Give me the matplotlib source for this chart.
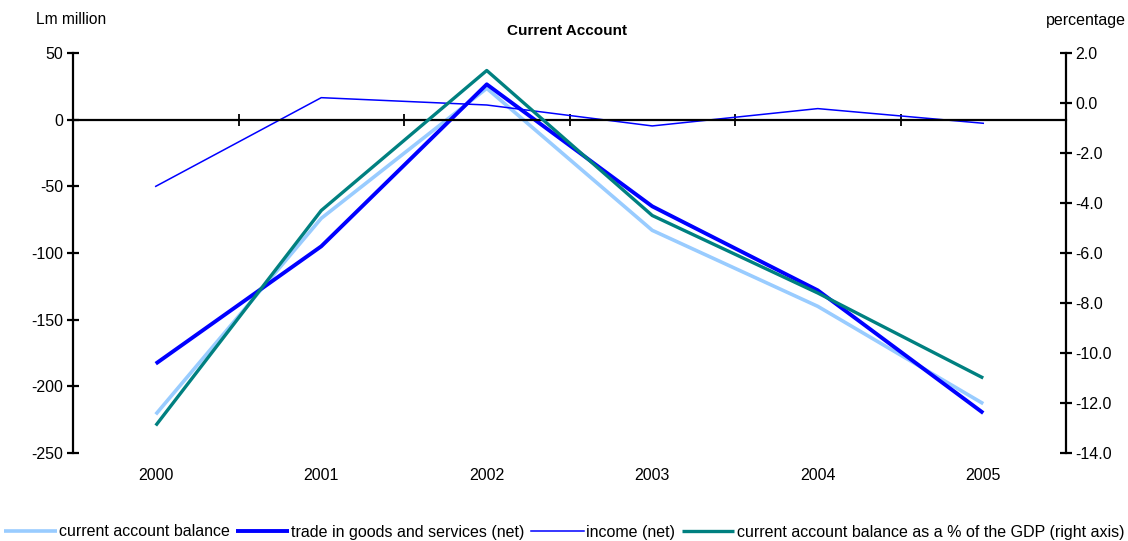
import matplotlib
matplotlib.use("Agg")
import matplotlib.pyplot as plt
import matplotlib.transforms as mtransforms
import numpy as np

plt.rcParams['font.family'] = ['Liberation Sans', 'DejaVu Sans']

years = ['2000', '2001', '2002', '2003', '2004', '2005']
current_account = [-221, -74, 23.5, -83, -140, -213]
trade_net = [-183, -95, 26.5, -65, -128, -220]
income_net = [-50, 16.5, 11, -4.7, 8.3, -2.7]
ca_pct_gdp = [-12.9, -4.3, 1.3, -4.5, -7.6, -11.0]

left_ticks = [-250, -200, -150, -100, -50, 0, 50]
right_ticks = [-14, -12, -10, -8, -6, -4, -2, 0, 2]

fig = plt.figure(figsize=(11.28, 5.41), dpi=100)
ax = fig.add_axes([73 / 1128, 1 - 453 / 541, (1066 - 73) / 1128, 400 / 541])
ax2 = ax.twinx()

x = np.arange(len(years))

l1, = ax.plot(x, current_account, color='#99CCFF', lw=2.6, solid_capstyle='butt',
              label='current account balance')
l2, = ax.plot(x, trade_net, color='#0000FF', lw=2.8, solid_capstyle='butt',
              label='trade in goods and services (net)')
l3, = ax.plot(x, income_net, color='#0000FF', lw=1.1,
              label='income (net)')
l4, = ax2.plot(x, ca_pct_gdp, color='#008080', lw=2.4, solid_capstyle='butt',
               label='current account balance as a % of the GDP (right axis)')

ax.set_xlim(-0.5, len(years) - 0.5)
ax.set_ylim(-250, 50)
ax.set_yticks(left_ticks)
ax.set_yticklabels([str(v) for v in left_ticks])
ax2.set_ylim(-14, 2)
ax2.set_yticks(right_ticks)
ax2.set_yticklabels([f'{v:.1f}' for v in right_ticks])

for a in (ax, ax2):
    a.spines['top'].set_visible(False)
ax2.spines['bottom'].set_visible(False)
ax2.spines['left'].set_visible(False)
ax.spines['right'].set_visible(False)
ax.spines['bottom'].set_position(('data', 0))
for sp in (ax.spines['left'], ax.spines['bottom'], ax2.spines['right']):
    sp.set_linewidth(1.6)
    sp.set_color('black')

# category boundary ticks on the zero line
ax.set_xticks(np.arange(-0.5, len(years), 1.0))
ax.tick_params(axis='x', direction='inout', length=9, width=1.3, labelbottom=False)
ax.tick_params(axis='y', direction='inout', length=8, width=1.6, labelsize=11.5, pad=3)
ax2.tick_params(axis='y', direction='inout', length=8, width=1.6, labelsize=11.5, pad=3)

# year labels below the plot area
trans = mtransforms.blended_transform_factory(ax.transData, ax.transAxes)
for xi, yr in zip(x, years):
    ax.text(xi, -0.055, yr, transform=trans, ha='center', va='center', fontsize=11.5)

fig.text(567 / 1128, 1 - 31 / 541, 'Current Account', ha='center', va='center',
         fontsize=11, fontweight='bold')
fig.text(36 / 1128, 1 - 20 / 541, 'Lm million', ha='left', va='center', fontsize=11.2)
fig.text(1126 / 1128, 1 - 20 / 541, 'percentage', ha='right', va='center', fontsize=11.5)

fig.legend(handles=[l1, l2, l3, l4], loc='center', bbox_to_anchor=(0.5, 1 - 532 / 541),
           ncol=4, frameon=False, fontsize=11.5, handlelength=3.3, handletextpad=0.15,
           columnspacing=0.4, borderpad=0, borderaxespad=0)

fig.savefig('out.png', dpi=100)
